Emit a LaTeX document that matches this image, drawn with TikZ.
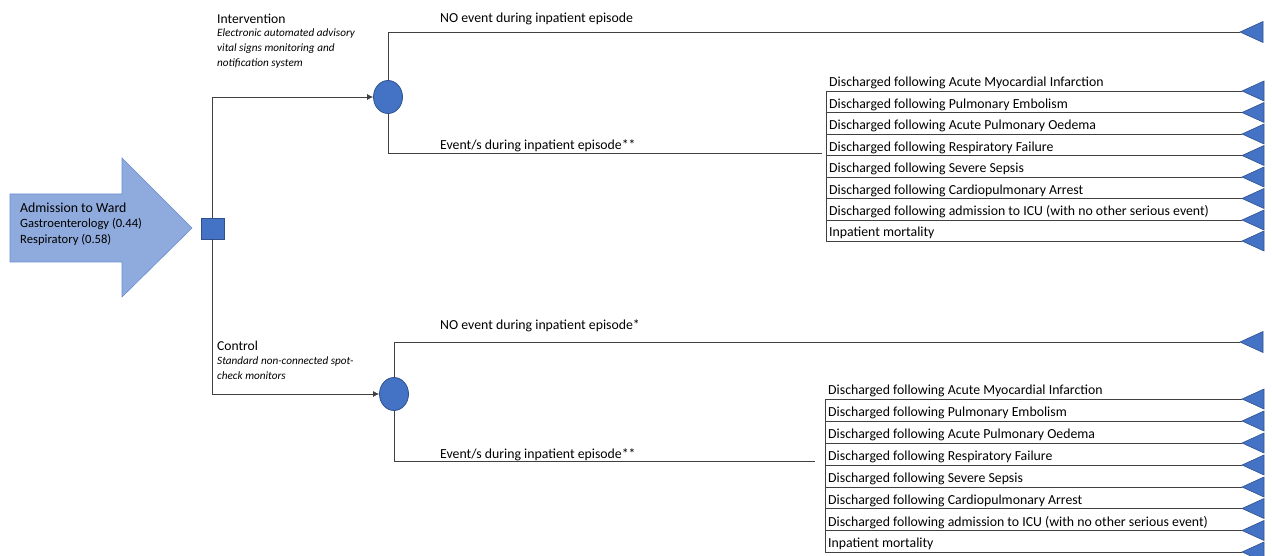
\documentclass[tikz,border=0pt]{standalone}
\usepackage{fontspec}
\setmainfont{Carlito}
\usetikzlibrary{arrows.meta,shapes.geometric}
\definecolor{nodeblue}{RGB}{68,114,196}
\definecolor{nodeedge}{RGB}{47,82,143}
\definecolor{admblue}{RGB}{143,170,220}
\definecolor{lngray}{RGB}{64,64,64}
\tikzset{
  ln/.style={draw=lngray, line width=0.8pt},
  chance/.style={ellipse, minimum width=29pt, minimum height=33pt, inner sep=0pt, fill=nodeblue, draw=nodeedge, line width=0.8pt},
  decision/.style={rectangle, minimum width=23pt, minimum height=21pt, inner sep=0pt, fill=nodeblue, draw=nodeedge, line width=0.8pt},
  term/.style={fill=nodeblue, draw=nodeedge, line width=0.6pt},
  row/.style={anchor=south west, inner xsep=3pt, inner ysep=0pt, text depth=4pt, font=\fontsize{13.8}{15}\selectfont},
  lbl/.style={anchor=west, inner sep=0pt, font=\fontsize{13.8}{15}\selectfont},
  arm/.style={anchor=west, inner sep=0pt, font=\fontsize{13.6}{15}\selectfont},
  desc/.style={anchor=north west, align=left, inner sep=0pt, font=\fontsize{11.2}{15}\selectfont\itshape}
}
\begin{document}
\begin{tikzpicture}[x=1pt,y=-1pt]
\useasboundingbox (0,0) rectangle (1272,556);
% admission arrow
\filldraw [fill=admblue, draw=nodeblue!80, line width=0.6pt] (10,194) -- (122,194) -- (122,158) -- (192,228) -- (122,297) -- (122,262) -- (10,262) -- cycle;
\node [anchor=west, align=left, inner sep=0pt, font=\fontsize{12.6}{15.5}\selectfont] (adm) at (20,224)
  {{\fontsize{13.8}{15.5}\selectfont Admission to Ward}\\Gastroenterology (0.44)\\Respiratory (0.58)};
% decision and chance nodes
\node [decision] (sq) at (212.5,228.5) {};
\node [chance] (c1) at (388,97) {};
\node [chance] (c2) at (394,394) {};
\draw [ln,-{Latex[length=6pt,width=6pt]}] (sq.north) |- (c1.west);
\draw [ln,-{Latex[length=6pt,width=6pt]}] (sq.south) |- (c2.west);
\node [arm] (int) at (217,19) {Intervention};
\node [desc] (intd) at (217,29) {Electronic automated advisory\\vital signs monitoring and\\notification system};
\node [arm] (ctl) at (217,346) {Control};
\node [desc] (ctld) at (217,357) {Standard non-connected spot-\\check monitors};
% intervention arm
\coordinate (n1) at (1240,32);
\coordinate (e1) at (822,153);
\draw [ln] (c1.north) |- (n1);
\draw [ln] (c1.south) |- (e1);
\filldraw [term] (n1) -- ++(23,-10.5) -- ++(0,21) -- cycle;
\node [lbl] (n1l) at (440,19) {NO event during inpatient episode};
\node [lbl] (e1l) at (440,146) {Event/s during inpatient episode**};
\node [row] (ia1) at (826,91) {Discharged following Acute Myocardial Infarction};
\node [row] (ia2) at (826,112.5) {Discharged following Pulmonary Embolism};
\node [row] (ia3) at (826,134) {Discharged following Acute Pulmonary Oedema};
\node [row] (ia4) at (826,155.5) {Discharged following Respiratory Failure};
\node [row] (ia5) at (826,177) {Discharged following Severe Sepsis};
\node [row] (ia6) at (826,198.5) {Discharged following Cardiopulmonary Arrest};
\node [row] (ia7) at (826,220) {Discharged following admission to ICU (with no other serious event)};
\node [row] (ia8) at (826,241) {Inpatient mortality};
\coordinate (it1) at (1242,91);
\coordinate (it2) at (1242,112.5);
\coordinate (it3) at (1242,134);
\coordinate (it4) at (1242,155.5);
\coordinate (it5) at (1242,177);
\coordinate (it6) at (1242,198.5);
\coordinate (it7) at (1242,220);
\coordinate (it8) at (1242,241);
\draw [ln] (ia1.south west) -- (ia8.south west);
\draw [ln] (ia1.south west) -- (it1);
\draw [ln] (ia2.south west) -- (it2);
\draw [ln] (ia3.south west) -- (it3);
\draw [ln] (ia4.south west) -- (it4);
\draw [ln] (ia5.south west) -- (it5);
\draw [ln] (ia6.south west) -- (it6);
\draw [ln] (ia7.south west) -- (it7);
\draw [ln] (ia8.south west) -- (it8);
\filldraw [term] (it1) -- ++(22,-10) -- ++(0,20) -- cycle;
\filldraw [term] (it2) -- ++(22,-10) -- ++(0,20) -- cycle;
\filldraw [term] (it3) -- ++(22,-10) -- ++(0,20) -- cycle;
\filldraw [term] (it4) -- ++(22,-10) -- ++(0,20) -- cycle;
\filldraw [term] (it5) -- ++(22,-10) -- ++(0,20) -- cycle;
\filldraw [term] (it6) -- ++(22,-10) -- ++(0,20) -- cycle;
\filldraw [term] (it7) -- ++(22,-10) -- ++(0,20) -- cycle;
\filldraw [term] (it8) -- ++(22,-10) -- ++(0,20) -- cycle;
% control arm
\coordinate (n2) at (1240,342);
\coordinate (e2) at (815,461);
\draw [ln] (c2.north) |- (n2);
\draw [ln] (c2.south) |- (e2);
\filldraw [term] (n2) -- ++(23,-10.5) -- ++(0,21) -- cycle;
\node [lbl] (n2l) at (440,326) {NO event during inpatient episode*};
\node [lbl] (e2l) at (440,455) {Event/s during inpatient episode**};
\node [row] (ca1) at (825,399) {Discharged following Acute Myocardial Infarction};
\node [row] (ca2) at (825,421) {Discharged following Pulmonary Embolism};
\node [row] (ca3) at (825,443) {Discharged following Acute Pulmonary Oedema};
\node [row] (ca4) at (825,465) {Discharged following Respiratory Failure};
\node [row] (ca5) at (825,487) {Discharged following Severe Sepsis};
\node [row] (ca6) at (825,508.5) {Discharged following Cardiopulmonary Arrest};
\node [row] (ca7) at (825,530.5) {Discharged following admission to ICU (with no other serious event)};
\node [row] (ca8) at (825,552) {Inpatient mortality};
\coordinate (ct1) at (1242,399);
\coordinate (ct2) at (1242,421);
\coordinate (ct3) at (1242,443);
\coordinate (ct4) at (1242,465);
\coordinate (ct5) at (1242,487);
\coordinate (ct6) at (1242,508.5);
\coordinate (ct7) at (1242,530.5);
\coordinate (ct8) at (1242,552);
\draw [ln] (ca1.south west) -- (ca8.south west);
\draw [ln] (ca1.south west) -- (ct1);
\draw [ln] (ca2.south west) -- (ct2);
\draw [ln] (ca3.south west) -- (ct3);
\draw [ln] (ca4.south west) -- (ct4);
\draw [ln] (ca5.south west) -- (ct5);
\draw [ln] (ca6.south west) -- (ct6);
\draw [ln] (ca7.south west) -- (ct7);
\draw [ln] (ca8.south west) -- (ct8);
\filldraw [term] (ct1) -- ++(22,-10) -- ++(0,20) -- cycle;
\filldraw [term] (ct2) -- ++(22,-10) -- ++(0,20) -- cycle;
\filldraw [term] (ct3) -- ++(22,-10) -- ++(0,20) -- cycle;
\filldraw [term] (ct4) -- ++(22,-10) -- ++(0,20) -- cycle;
\filldraw [term] (ct5) -- ++(22,-10) -- ++(0,20) -- cycle;
\filldraw [term] (ct6) -- ++(22,-10) -- ++(0,20) -- cycle;
\filldraw [term] (ct7) -- ++(22,-10) -- ++(0,20) -- cycle;
\filldraw [term] (ct8) -- ++(22,-10) -- ++(0,20) -- cycle;
\end{tikzpicture}
\end{document}
